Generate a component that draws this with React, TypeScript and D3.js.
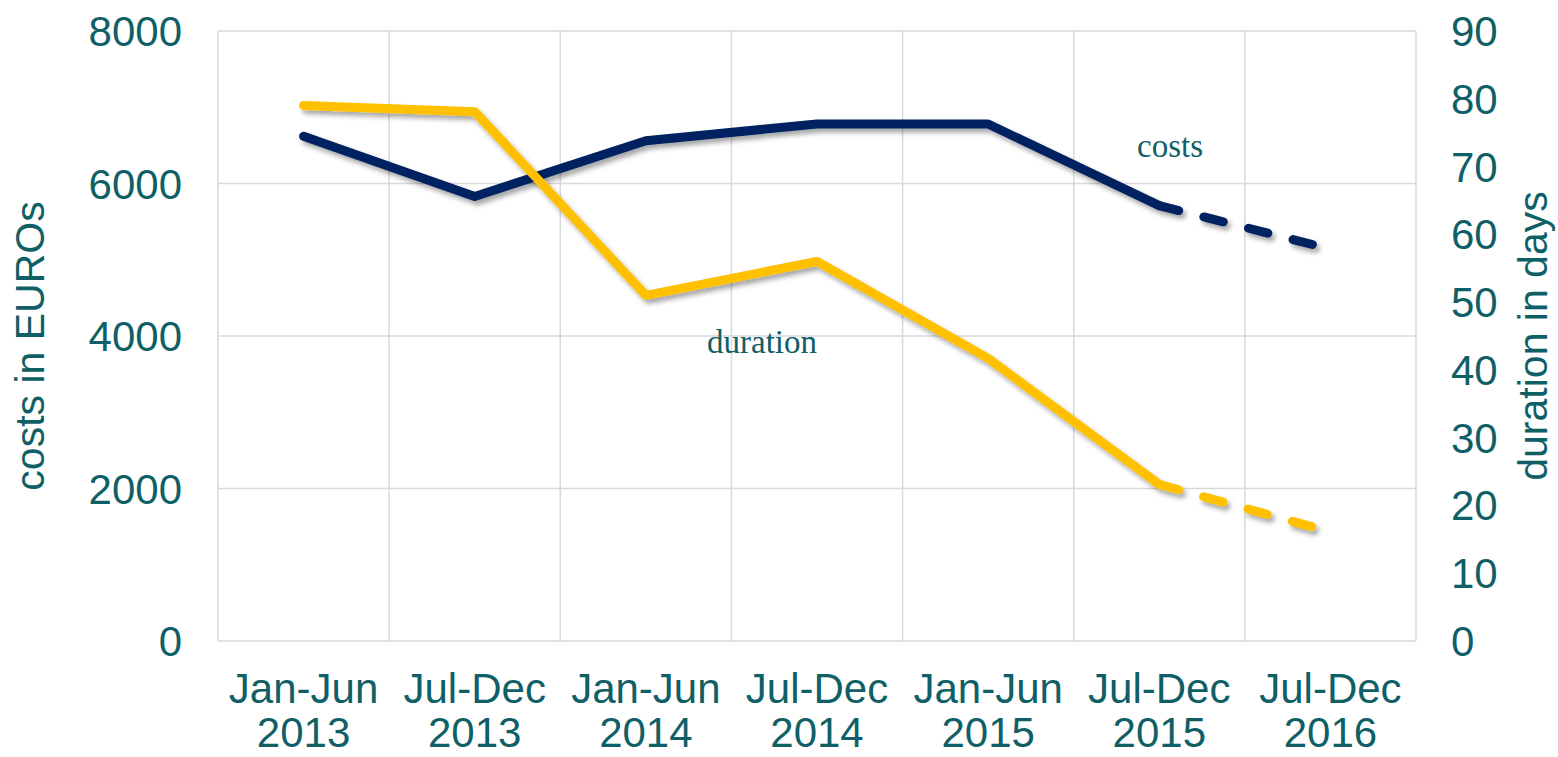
import React from "react";
import * as d3 from "d3";

const categories = [
  ["Jan-Jun", "2013"],
  ["Jul-Dec", "2013"],
  ["Jan-Jun", "2014"],
  ["Jul-Dec", "2014"],
  ["Jan-Jun", "2015"],
  ["Jul-Dec", "2015"],
  ["Jul-Dec", "2016"],
];
const costs = [6620, 5830, 6560, 6780, 6780, 5710, 5140];
const duration = [79.0, 78.1, 51.0, 56.0, 41.7, 23.1, 16.1];
const costTicks = [0, 2000, 4000, 6000, 8000];
const durationTicks = [0, 10, 20, 30, 40, 50, 60, 70, 80, 90];

const W = 1558;
const H = 757;
const M = { left: 218, right: 1416, top: 31, bottom: 641 };
const TEXT = "#0f6066";
const NAVY = "#002060";
const GOLD = "#ffc000";
const GRID = "#d9d9d9";
const SANS = "'Liberation Sans', Arial, sans-serif";
const SERIF = "'Liberation Serif', 'Times New Roman', serif";

export default function App() {
  const keys = categories.map((c) => c.join(" "));
  const x = d3.scaleBand<string>().domain(keys).range([M.left, M.right]);
  const yL = d3.scaleLinear().domain([0, 8000]).range([M.bottom, M.top]);
  const yR = d3.scaleLinear().domain([0, 90]).range([M.bottom, M.top]);
  const cx = (i: number) => (x(keys[i]) as number) + x.bandwidth() / 2;

  const costPts: [number, number][] = costs.map((v, i) => [cx(i), yL(v)]);
  const durPts: [number, number][] = duration.map((v, i) => [cx(i), yR(v)]);
  const line = d3.line();
  const n = categories.length;

  const boundaries = keys.map((k) => x(k) as number).concat([M.right]);

  const seriesPaths = (pts: [number, number][], color: string) => (
    <g filter="url(#shadow)">
      <path
        d={line(pts.slice(0, n - 1)) || ""}
        fill="none"
        stroke={color}
        strokeWidth={9}
        strokeLinecap="round"
        strokeLinejoin="round"
      />
      <path
        d={line(pts.slice(n - 2)) || ""}
        fill="none"
        stroke={color}
        strokeWidth={9}
        strokeLinecap="round"
        strokeLinejoin="round"
        strokeDasharray="20 26"
      />
    </g>
  );

  return (
    <svg
      width={W}
      height={H}
      style={{ position: "absolute", left: 0, top: 0, background: "#fff" }}
    >
      <defs>
        <filter id="shadow" x="-10%" y="-20%" width="120%" height="140%">
          <feDropShadow dx="3" dy="4" stdDeviation="2.5" floodColor="#000" floodOpacity="0.35" />
        </filter>
      </defs>
      <rect x={0} y={0} width={W} height={H} fill="#fff" />
      {/* grid */}
      <g stroke={GRID} strokeWidth={1.5}>
        {costTicks.map((t) => (
          <line key={"h" + t} x1={M.left} x2={M.right} y1={yL(t)} y2={yL(t)} />
        ))}
        {boundaries.map((b, i) => (
          <line key={"v" + i} x1={b} x2={b} y1={M.top} y2={M.bottom} />
        ))}
      </g>
      {/* ticks */}
      <g fill={TEXT} fontFamily={SANS} fontSize={42}>
        {costTicks.map((t) => (
          <text key={"l" + t} x={182} y={yL(t) + 15} textAnchor="end">
            {t}
          </text>
        ))}
        {durationTicks.map((t) => (
          <text key={"r" + t} x={1451} y={yR(t) + 15} textAnchor="start">
            {t}
          </text>
        ))}
        {categories.map((c, i) => (
          <text key={"c" + i} x={cx(i)} textAnchor="middle">
            <tspan x={cx(i)} y={703}>
              {c[0]}
            </tspan>
            <tspan x={cx(i)} y={747}>
              {c[1]}
            </tspan>
          </text>
        ))}
      </g>
      {/* axis titles */}
      <g fill={TEXT} fontFamily={SANS} fontSize={41}>
        <text transform={`translate(44, 346) rotate(-90)`} textAnchor="middle">
          costs in EUROs
        </text>
        <text transform={`translate(1547, 336) rotate(-90)`} textAnchor="middle">
          duration in days
        </text>
      </g>
      {seriesPaths(costPts, NAVY)}
      {seriesPaths(durPts, GOLD)}
      {/* series labels */}
      <g fill={TEXT} fontFamily={SERIF} fontSize={33}>
        <text x={1170} y={157} textAnchor="middle">
          costs
        </text>
        <text x={762} y={353} textAnchor="middle">
          duration
        </text>
      </g>
    </svg>
  );
}
